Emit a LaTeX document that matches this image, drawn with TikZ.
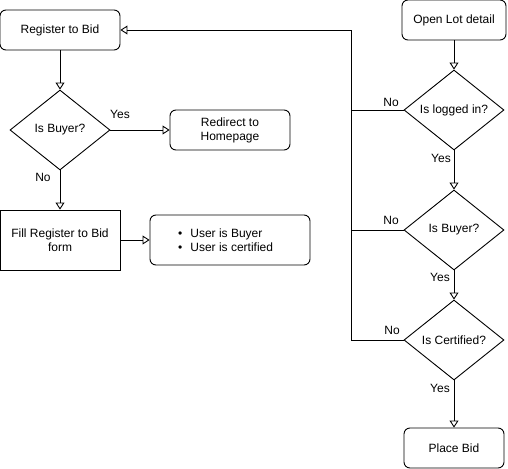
\documentclass[tikz,border=0pt]{standalone}
\usepackage{fontspec}
\setmainfont{Liberation Sans}
\usetikzlibrary{shapes.geometric,arrows.meta}
\begin{document}
\begin{tikzpicture}[x=1pt,y=-1pt,
  every node/.style={font=\fontsize{12}{14}\selectfont, inner sep=0pt},
  rbox/.style={draw, line width=0.9pt, rounded corners=6pt, align=center},
  sbox/.style={draw, line width=0.9pt, align=center},
  dia/.style={draw, line width=0.9pt, diamond, minimum width=100pt, minimum height=80pt, align=center},
  lbl/.style={font=\fontsize{12}{14}\selectfont},
  arr/.style={line width=0.9pt, -{Triangle[open, length=7pt, width=9pt]}},
  ln/.style={line width=0.9pt}]
\path[use as bounding box] (0,0) rectangle (508,468);
\fill[white] (0,0) rectangle (508,468);
% left column
\node[rbox, minimum width=120pt, minimum height=40pt] (rtb) at (60,30) {Register to Bid};
\node[dia] (ib1) at (60,130) {Is Buyer?};
\node[rbox, minimum width=120pt, minimum height=40pt] (rdh) at (230,130) {Redirect to\\Homepage};
\node[sbox, minimum width=120pt, minimum height=60pt] (fill) at (60,240) {Fill Register to Bid\\form};
\node[rbox, minimum width=160pt, minimum height=50pt] (res) at (230,240) {};
\node[anchor=west, align=left] (bul) at (178,240) {\textbullet\hspace{8pt}User is Buyer\\\textbullet\hspace{8pt}User is certified};
% right column
\node[rbox, minimum width=104pt, minimum height=40pt] (old) at (454,20) {Open Lot detail};
\node[dia] (il) at (454,110) {Is logged in?};
\node[dia] (ib2) at (454,230) {Is Buyer?};
\node[dia] (ic) at (454,340) {Is Certified?};
\node[rbox, minimum width=100pt, minimum height=40pt] (pb) at (454,448) {Place Bid};
\coordinate (j) at (351,30);
% connectors
\draw[arr] (rtb.south) -- (ib1.north);
\draw[arr] (ib1.east) -- (rdh.west);
\draw[arr] (ib1.south) -- (fill.north);
\draw[arr] (fill.east) -- (res.west);
\draw[arr] (old.south) -- (il.north);
\draw[arr] (il.south) -- (ib2.north);
\draw[arr] (ib2.south) -- (ic.north);
\draw[arr] (ic.south) -- (pb.north);
\draw[ln] (il.west) -- (il.west -| j);
\draw[ln] (ib2.west) -- (ib2.west -| j);
\draw[arr] (ic.west) -| (j) -- (rtb.east);
% labels
\node[lbl] (y1) at (120,114) {Yes};
\node[lbl] (n1) at (43,177) {No};
\node[lbl] (n2) at (391,102) {No};
\node[lbl] (y2) at (441,158) {Yes};
\node[lbl] (n3) at (391,220) {No};
\node[lbl] (y3) at (440,277) {Yes};
\node[lbl] (n4) at (392,330) {No};
\node[lbl] (y4) at (440,388) {Yes};
\end{tikzpicture}
\end{document}
